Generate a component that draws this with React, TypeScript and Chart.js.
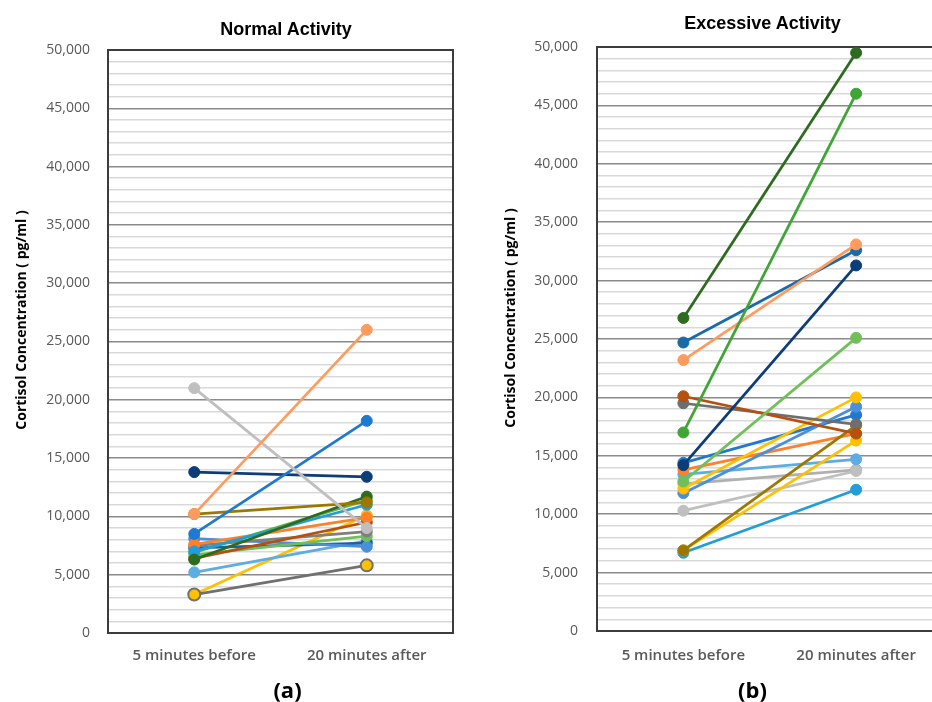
import React, { useEffect, useRef } from 'react';
import { Chart, registerables } from 'chart.js';
Chart.register(...registerables);

// ---------- data ----------
const categories = ['5 minutes before', '20 minutes after'];
const yTickValues = [0, 5000, 10000, 15000, 20000, 25000, 30000, 35000, 40000, 45000, 50000];

// Normal activity (a)
const normalBefore = [10200, 21000, 8500, 13800, 10200, 6300, 7000, 6900, 7600, 6400, 7500, 6700, 8100, 7300, 5200, 3300, 3300];
const normalAfter = [26000, 9000, 18200, 13400, 11200, 11700, 11000, 11400, 9900, 9500, 8700, 8300, 7400, 7700, 7900, 5800, 10100];
const normalColors = ['#FF9B5E', '#BFBFBF', '#1F78D1', '#0C3D78', '#9C7800', '#2D6B1F', '#219ED8', '#5BB54B', '#FF7F2A', '#B5500F', '#7F7F7F', '#70BF5A', '#4A8FD8', '#1D5FA5', '#5DADE2', '#707070', '#FFC000'];
const normalMarkerFill = [null, null, null, null, null, null, null, null, null, null, null, null, null, null, null, '#FFC000', null];

// Excessive activity (b)
const excessiveBefore = [26800, 17000, 23200, 24700, 14200, 12800, 20100, 19500, 12200, 11800, 14400, 6900, 6900, 13800, 13400, 10300, 12600, 6700];
const excessiveAfter = [49500, 46000, 33100, 32600, 31300, 25100, 16900, 17700, 20000, 19200, 18500, 17600, 16300, 16900, 14700, 13700, 13800, 12100];
const excessiveColors = ['#2D6B1F', '#3FA535', '#FF9B5E', '#1A6AA8', '#0C3D78', '#70BF5A', '#B5500F', '#6E6E6E', '#FFC000', '#4A8FD8', '#1F78D1', '#9C7800', '#FFC000', '#FF7F2A', '#5DADE2', '#BFBFBF', '#B0B0B0', '#219ED8'];
const excessiveMarkerFill = excessiveColors.map(() => null);

// ---------- helpers ----------
const framePlugin = {
  id: 'frame',
  beforeDatasetsDraw(chart: any) {
    const { ctx, chartArea: a } = chart;
    ctx.save();
    ctx.strokeStyle = '#3C3C3C';
    ctx.lineWidth = 2;
    ctx.strokeRect(a.left, a.top, a.right - a.left, a.bottom - a.top);
    ctx.restore();
  },
};

function buildConfig(
  before: number[],
  after: number[],
  colors: string[],
  fills: (string | null)[],
  geom: { yWidth: number; xHeight: number; top: number; right: number; yPad: number; xPad: number }
): any {
  const datasets = before.map((b, i) => ({
    data: [b, after[i]],
    borderColor: colors[i],
    backgroundColor: colors[i],
    borderWidth: 2.75,
    pointRadius: fills[i] ? 6 : 5.5,
    pointBackgroundColor: fills[i] || colors[i],
    pointBorderColor: colors[i],
    pointBorderWidth: fills[i] ? 2 : 1,
    tension: 0,
  }));
  return {
    type: 'line',
    data: { labels: categories, datasets },
    plugins: [framePlugin],
    options: {
      animation: false,
      responsive: false,
      devicePixelRatio: 1,
      layout: { padding: { left: 0, top: geom.top, right: geom.right, bottom: 0 } },
      plugins: { legend: { display: false }, tooltip: { enabled: false }, title: { display: false } },
      scales: {
        x: {
          type: 'category',
          offset: true,
          grid: { display: false, drawTicks: false },
          border: { display: false },
          ticks: {
            color: '#595959',
            padding: geom.xPad,
            font: { family: 'Open Sans', size: 15, weight: '600' },
            maxRotation: 0,
          },
          afterFit: (s: any) => {
            s.height = geom.xHeight;
          },
        },
        y: {
          min: 0,
          max: 50000,
          grid: {
            drawTicks: false,
            color: (c: any) => (c.tick && yTickValues.includes(c.tick.value) ? '#8A8A8A' : '#D9D9D9'),
            lineWidth: (c: any) => (c.tick && yTickValues.includes(c.tick.value) ? 1.5 : 1.6),
          },
          border: { display: false },
          ticks: {
            stepSize: 1000,
            autoSkip: false,
            color: '#595959',
            padding: geom.yPad,
            font: { family: 'Open Sans', size: 14 },
            callback: (v: any) => (yTickValues.includes(Number(v)) ? Number(v).toLocaleString('en-US') : ''),
          },
          afterFit: (s: any) => {
            s.width = geom.yWidth;
          },
        },
      },
    },
  };
}

function ChartCanvas({ config, width, height, left }: { config: any; width: number; height: number; left: number }) {
  const ref = useRef<HTMLCanvasElement | null>(null);
  useEffect(() => {
    if (!ref.current) return;
    const chart = new Chart(ref.current, config);
    return () => chart.destroy();
  }, [config]);
  return (
    <canvas
      ref={ref}
      width={width}
      height={height}
      style={{ position: 'absolute', left, top: 0, width, height }}
    />
  );
}

const titleStyle: React.CSSProperties = {
  position: 'absolute',
  fontFamily: '"Liberation Sans", Arial, sans-serif',
  fontWeight: 'bold',
  fontSize: 18,
  lineHeight: '22px',
  color: '#000',
  textAlign: 'center',
  width: 400,
  whiteSpace: 'nowrap',
};

const yTitleStyle: React.CSSProperties = {
  position: 'absolute',
  fontFamily: '"Open Sans", sans-serif',
  fontWeight: 'bold',
  fontSize: 14,
  lineHeight: '20px',
  color: '#000',
  textAlign: 'center',
  width: 300,
  height: 20,
  whiteSpace: 'nowrap',
  transform: 'rotate(-90deg)',
  transformOrigin: '50% 50%',
};

const panelLabelStyle: React.CSSProperties = {
  position: 'absolute',
  fontFamily: '"Open Sans", sans-serif',
  fontWeight: 'bold',
  fontSize: 22,
  lineHeight: '30px',
  color: '#000',
  textAlign: 'center',
  width: 100,
};

const normalConfig = buildConfig(normalBefore, normalAfter, normalColors, normalMarkerFill, {
  yWidth: 108,
  xHeight: 69,
  top: 50,
  right: 17,
  yPad: 18,
  xPad: 14,
});
const excessiveConfig = buildConfig(excessiveBefore, excessiveAfter, excessiveColors, excessiveMarkerFill, {
  yWidth: 127,
  xHeight: 71,
  top: 47,
  right: 19.5,
  yPad: 19,
  xPad: 16,
});

export default function App() {
  return (
    <div
      style={{
        position: 'fixed',
        left: 0,
        top: 0,
        width: 932,
        height: 702,
        overflow: 'hidden',
        background: '#fff',
      }}
    >
      <ChartCanvas config={normalConfig} width={470} height={702} left={0} />
      <ChartCanvas config={excessiveConfig} width={492} height={702} left={470} />
      <div style={{ ...titleStyle, left: 86, top: 17.7 }}>Normal Activity</div>
      <div style={{ ...titleStyle, left: 562.5, top: 12.2 }}>Excessive Activity</div>
      <div style={{ ...yTitleStyle, left: 20.7 - 150, top: 320 - 10 }}>Cortisol Concentration ( pg/ml )</div>
      <div style={{ ...yTitleStyle, left: 510 - 150, top: 318 - 10 }}>Cortisol Concentration ( pg/ml )</div>
      <div style={{ ...panelLabelStyle, left: 287.5 - 50, top: 674 }}>(a)</div>
      <div style={{ ...panelLabelStyle, left: 752.5 - 50, top: 674 }}>(b)</div>
    </div>
  );
}
